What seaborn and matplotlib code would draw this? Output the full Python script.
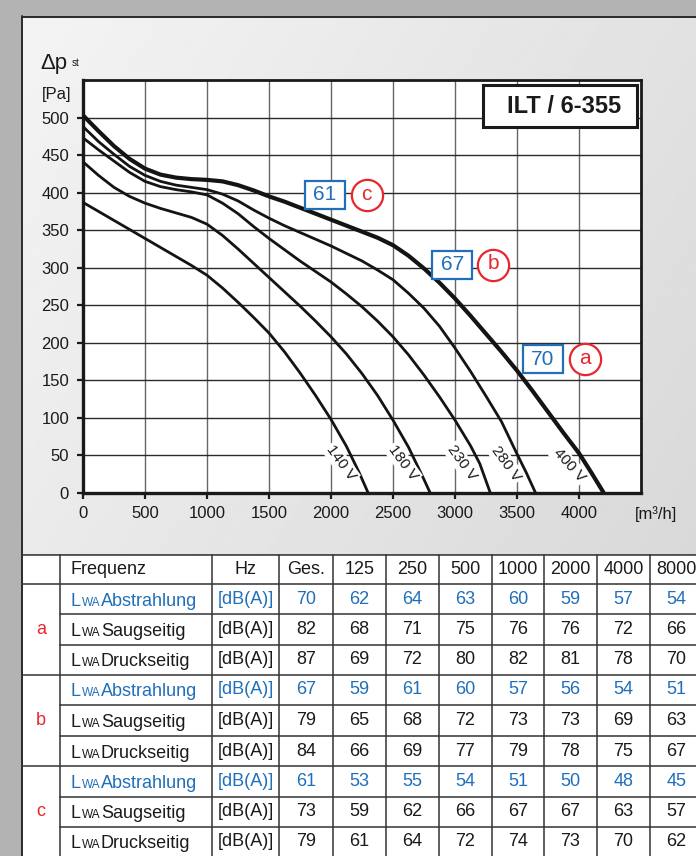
import numpy as np
import pandas as pd
import matplotlib
matplotlib.use("Agg")
import matplotlib.pyplot as plt
import seaborn as sns
from matplotlib.patches import Rectangle

sns.set_theme(style="white")
plt.rcParams['font.family'] = ['Liberation Sans', 'DejaVu Sans']

# ---- Fan characteristic curves: air flow [m³/h] -> static pressure [Pa]
flow_140 = [0, 125, 250, 375, 500, 625, 750, 875, 1000, 1125, 1250, 1375, 1500,
            1625, 1750, 1875, 2000, 2125, 2225, 2300]
dp_140 = [387, 375, 363, 351, 339, 327, 315, 303, 290, 273, 254, 234, 213,
          188, 160, 130, 98, 62, 28, 0]

flow_180 = [0, 125, 250, 375, 500, 625, 750, 875, 1000, 1125, 1250, 1375, 1500,
            1625, 1750, 1875, 2000, 2125, 2250, 2375, 2500, 2625, 2750, 2800]
dp_180 = [441, 423, 407, 395, 386, 379, 373, 367, 358, 343, 325, 306, 287,
          268, 249, 229, 208, 185, 159, 130, 97, 61, 18, 0]

flow_230 = [0, 125, 250, 375, 500, 625, 750, 875, 1000, 1125, 1250, 1375, 1500,
            1625, 1750, 1875, 2000, 2125, 2250, 2375, 2500, 2625, 2750, 2875,
            3000, 3125, 3200, 3285]
dp_230 = [473, 457, 442, 427, 415, 408, 404, 401, 397, 386, 372, 355, 339,
          324, 309, 295, 281, 265, 248, 229, 208, 184, 157, 128,
          97, 63, 39, 0]

flow_280 = [0, 125, 250, 375, 500, 625, 750, 875, 1000, 1125, 1250, 1375, 1500,
            1625, 1750, 1875, 2000, 2125, 2250, 2375, 2500, 2625, 2750, 2875,
            3000, 3125, 3250, 3375, 3500, 3575, 3650]
dp_280 = [488, 468, 451, 435, 423, 415, 410, 407, 404, 398, 389, 377, 366,
          356, 347, 338, 329, 319, 309, 297, 284, 266, 246, 222,
          193, 162, 129, 95, 52, 27, 0]

flow_400 = [0, 125, 250, 375, 500, 625, 750, 875, 1000, 1125, 1250, 1375, 1500,
            1625, 1750, 1875, 2000, 2125, 2250, 2375, 2500, 2625, 2750, 2875,
            3000, 3125, 3250, 3375, 3500, 3625, 3750, 3875, 4000, 4100, 4200]
dp_400 = [503, 482, 462, 445, 432, 424, 420, 418, 417, 415, 410, 403, 395,
          388, 380, 372, 364, 356, 348, 340, 330, 316, 299, 280,
          259, 236, 212, 188, 163, 136, 108, 80, 53, 27, 0]

voltages = ["140 V", "180 V", "230 V", "280 V", "400 V"]
curve_flows = [flow_140, flow_180, flow_230, flow_280, flow_400]
curve_dps = [dp_140, dp_180, dp_230, dp_280, dp_400]

# label anchor beside each curve (flow, pressure) and text angle
label_flow = [2081, 2581, 3056, 3411, 3919]
label_dp = [40, 40, 40, 39, 37]
label_angle = [-54, -54, -54, -54, -48]

# operating points marked on the 400 V curve
op_letters = ["a", "b", "c"]
op_box_flow = [3706, 2978, 1949]
op_box_dp = [178, 304, 397]
op_circle_flow = [4048, 3309, 2288]

# ---- Sound power table
freq_header = ["Frequenz", "Hz", "Ges.", "125", "250", "500", "1000", "2000", "4000", "8000"]
row_kinds = ["Abstrahlung", "Saugseitig", "Druckseitig"]
unit_label = "[dB(A)]"
a_abstrahlung = [70, 62, 64, 63, 60, 59, 57, 54]
a_saugseitig = [82, 68, 71, 75, 76, 76, 72, 66]
a_druckseitig = [87, 69, 72, 80, 82, 81, 78, 70]
b_abstrahlung = [67, 59, 61, 60, 57, 56, 54, 51]
b_saugseitig = [79, 65, 68, 72, 73, 73, 69, 63]
b_druckseitig = [84, 66, 69, 77, 79, 78, 75, 67]
c_abstrahlung = [61, 53, 55, 54, 51, 50, 48, 45]
c_saugseitig = [73, 59, 62, 66, 67, 67, 63, 57]
c_druckseitig = [79, 61, 64, 72, 74, 73, 70, 62]
table_groups = {
    "a": [a_abstrahlung, a_saugseitig, a_druckseitig],
    "b": [b_abstrahlung, b_saugseitig, b_druckseitig],
    "c": [c_abstrahlung, c_saugseitig, c_druckseitig],
}

BLUE = "#1f6fba"
RED = "#e8262e"
INK = "#1a1a1a"

W, H = 696, 856
fig = plt.figure(figsize=(W / 100, H / 100), dpi=100)

# background / table layer in pixel coordinates
bg = fig.add_axes([0, 0, 1, 1])
bg.set_xlim(0, W)
bg.set_ylim(H, 0)
bg.axis("off")
bg.set_zorder(0)

bg.add_patch(Rectangle((0, 0), W, H, color="#b3b3b3", zorder=0))
gy, gx = np.mgrid[0:1:200j, 0:1:200j]
shade = 0.955 - 0.07 * gx - 0.035 * gy
bg.imshow(shade, cmap="gray", vmin=0, vmax=1, extent=(22, W, 554, 17),
          aspect="auto", zorder=1, interpolation="bilinear")
bg.plot([22, 22], [16, H], color="#2a2a2a", lw=1.4, zorder=3)
bg.plot([22, W], [16.5, 16.5], color="#2a2a2a", lw=1.4, zorder=3)

# axis captions
bg.text(40, 69, "Δp", fontsize=16, color=INK, ha="left", va="baseline", zorder=4)
bg.text(72, 66, "st", fontsize=7, color=INK, ha="left", va="baseline", zorder=4)
bg.text(42, 94, "[Pa]", fontsize=12, color=INK, ha="left", va="center", zorder=4)
bg.text(635, 514, "[m³/h]", fontsize=12, color=INK, ha="left", va="center", zorder=4)

# table grid
col_edges = [22, 60, 212, 279, 333, 386, 439, 492, 544, 597, 650, 703]
row_edges = [555, 584, 614, 645, 675, 705, 736, 766, 797, 827, 857]
bg.add_patch(Rectangle((22, 554.5), W - 22, H - 554.5, facecolor="white",
                       edgecolor="none", zorder=2))
line_kw = dict(color="#333333", lw=1.1, zorder=3)
for i, y in enumerate(row_edges):
    x0 = 22 if i in (0, 1, 4, 7) else 60
    bg.plot([x0, W], [y, y], **line_kw)
for x in col_edges[1:]:
    bg.plot([x, x], [row_edges[0], H], **line_kw)

TFS = 13
for j, txt in enumerate(freq_header):
    yc = (row_edges[0] + row_edges[1]) / 2
    if j == 0:
        bg.text(71, yc, txt, fontsize=TFS, color=INK, ha="left", va="center", zorder=4)
    else:
        xc = (col_edges[j + 1] + col_edges[j + 2]) / 2
        bg.text(xc, yc, txt, fontsize=TFS, color=INK, ha="center", va="center", zorder=4)

r = 1
for letter, rows in table_groups.items():
    gy0, gy1 = row_edges[r], row_edges[r + 3]
    bg.text(41, (gy0 + gy1) / 2, letter, fontsize=TFS, color=RED,
            ha="center", va="center", zorder=4)
    for k, vals in enumerate(rows):
        y0, y1 = row_edges[r + k], row_edges[r + k + 1]
        yc = (y0 + y1) / 2
        base = yc + 6.5
        col = BLUE if k == 0 else INK
        bg.text(71, base, "L", fontsize=TFS, color=col, ha="left", va="baseline", zorder=4)
        bg.text(81.5, base, "WA", fontsize=8.5, color=col, ha="left", va="baseline", zorder=4)
        bg.text(101, base, row_kinds[k], fontsize=TFS, color=col, ha="left",
                va="baseline", zorder=4)
        bg.text((col_edges[2] + col_edges[3]) / 2, yc, unit_label, fontsize=TFS,
                color=col, ha="center", va="center", zorder=4)
        for m, v in enumerate(vals):
            xc = (col_edges[m + 3] + col_edges[m + 4]) / 2
            bg.text(xc, yc, str(v), fontsize=TFS, color=col, ha="center",
                    va="center", zorder=4)
    r += 3

# ---- characteristic diagram
ax = fig.add_axes([83 / W, 1 - 493 / H, 558 / W, 413 / H])
ax.set_zorder(2)
ax.set_facecolor("white")

for name, fl, dp in zip(voltages, curve_flows, curve_dps):
    df = pd.DataFrame({"flow": fl, "dp": dp})
    sns.lineplot(data=df, x="flow", y="dp", ax=ax, color="#141414",
                 lw=3.0 if name == "400 V" else 2.0, sort=False, estimator=None,
                 solid_joinstyle="round", solid_capstyle="butt", zorder=5)

ax.set_xlim(0, 4500)
ax.set_ylim(0, 550)
ax.set_xticks(range(0, 4001, 500))
ax.set_yticks(range(0, 501, 50))
ax.set_xlabel("")
ax.set_ylabel("")
ax.grid(True, axis="y", color="#2b2b2b", lw=1.0, zorder=1)
ax.grid(True, axis="x", color="#666666", lw=1.0, zorder=1)
ax.set_axisbelow(True)
ax.tick_params(axis="both", direction="out", length=4, width=1.6, color="#1a1a1a",
               labelsize=12, labelcolor=INK, left=True, bottom=True)
ax.tick_params(axis="y", pad=6)
ax.tick_params(axis="x", pad=5)
for side, lw in (("left", 2.4), ("bottom", 2.4), ("top", 2.0), ("right", 2.0)):
    ax.spines[side].set_visible(True)
    ax.spines[side].set_color("#1a1a1a")
    ax.spines[side].set_linewidth(lw)

for name, fx, fy, ang in zip(voltages, label_flow, label_dp, label_angle):
    ax.text(fx, fy, name, fontsize=11, color=INK, rotation=ang, rotation_mode="anchor",
            ha="center", va="center", zorder=6,
            bbox=dict(boxstyle="square,pad=0.12", fc="white", ec="none"))

# operating point markers: overall radiated level in a box, letter in a circle
ges_abstrahlung = [table_groups[l][0][0] for l in op_letters]
bw, bh = 40 / 0.124, 28 / 0.75
for letter, level, bx, by, cx in zip(op_letters, ges_abstrahlung, op_box_flow,
                                      op_box_dp, op_circle_flow):
    ax.add_patch(Rectangle((bx - bw / 2, by - bh / 2), bw, bh, facecolor="white",
                           edgecolor=BLUE, lw=1.6, zorder=7))
    ax.text(bx, by, str(level), fontsize=15, color=BLUE, ha="center", va="center",
            zorder=8)
    ax.plot([cx], [by], marker="o", ms=22.5, mfc="white", mec=RED, mew=1.6, zorder=7)
    ax.text(cx, by + 1, letter, fontsize=15, color=RED, ha="center", va="center",
            zorder=8)

# model designation
ax.add_patch(Rectangle((0.717, 0.886), 0.276, 0.102, transform=ax.transAxes,
                       facecolor="white", edgecolor="#1a1a1a", lw=2.2, zorder=7))
ax.text(0.862, 0.937, "ILT / 6-355", transform=ax.transAxes, fontsize=17,
        fontweight="bold", color=INK, ha="center", va="center", zorder=8)

fig.savefig("out.png", dpi=100)
